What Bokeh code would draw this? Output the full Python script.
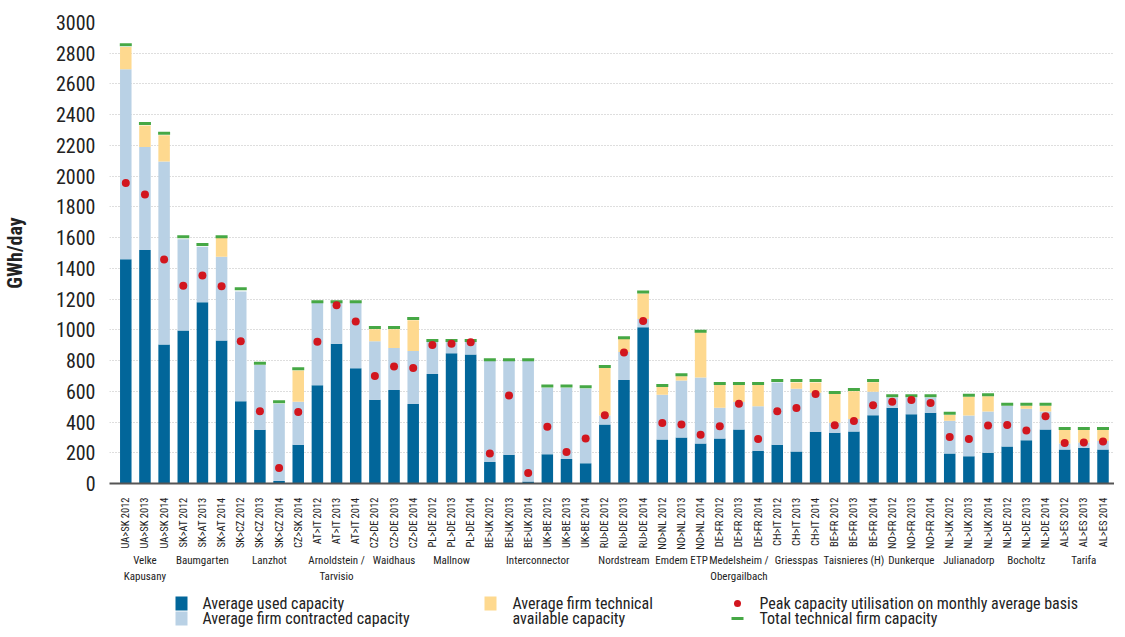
import numpy as np
from bokeh.plotting import figure
from bokeh.models import Range1d, FixedTicker, ColumnDataSource
from bokeh.layouts import column
from bokeh.embed import file_html
from bokeh.resources import INLINE
from bokeh.core.properties import value

labels = ["UA>SK 2012", "UA>SK 2013", "UA>SK 2014", "SK>AT 2012", "SK>AT 2013", "SK>AT 2014",
          "SK>CZ 2012", "SK>CZ 2013", "SK>CZ 2014", "CZ>SK 2014", "AT>IT 2012", "AT>IT 2013",
          "AT>IT 2014", "CZ>DE 2012", "CZ>DE 2013", "CZ>DE 2014", "PL>DE 2012", "PL>DE 2013",
          "PL>DE 2014", "BE>UK 2012", "BE>UK 2013", "BE>UK 2014", "UK>BE 2012", "UK>BE 2013",
          "UK>BE 2014", "RU>DE 2012", "RU>DE 2013", "RU>DE 2014", "NO>NL 2012", "NO>NL 2013",
          "NO>NL 2014", "DE>FR 2012", "DE>FR 2013", "DE>FR 2014", "CH>IT 2012", "CH>IT 2013",
          "CH>IT 2014", "BE>FR 2012", "BE>FR 2013", "BE>FR 2014", "NO>FR 2012", "NO>FR 2013",
          "NO>FR 2014", "NL>UK 2012", "NL>UK 2013", "NL>UK 2014", "NL>DE 2012", "NL>DE 2013",
          "NL>DE 2014", "AL>ES 2012", "AL>ES 2013", "AL>ES 2014"]

groups = ["Velke\nKapusany", "Baumgarten", "Lanzhot", "Arnoldstein /\nTarvisio", "Waidhaus",
          "Mallnow", "Interconnector", "Nordstream", "Emdem ETP", "Medelsheim /\nObergailbach",
          "Griesspas", "Taisnieres (H)", "Dunkerque", "Julianadorp", "Bocholtz", "Tarifa"]
group_sizes = [3, 3, 4, 3, 3, 3, 6, 3, 3, 3, 3, 3, 3, 3, 3, 3]

# Average used capacity
used = [1460, 1520, 905, 995, 1180, 930, 535, 350, 17, 252, 640, 910, 750,
        545, 608, 517, 713, 847, 840, 140, 187, 13, 190, 159, 131,
        384, 674, 1017, 287, 300, 261, 293, 351, 213, 252, 209, 336,
        330, 338, 444, 493, 450, 461, 196, 177, 200, 241, 282, 351, 222, 233, 222]
# Top of average firm contracted capacity
contracted = [2695, 2190, 2095, 1590, 1541, 1476, 1250, 771, 519, 532, 1175, 1175, 1175,
              925, 881, 862, 922, 922, 922, 797, 797, 797, 623, 623, 619,
              442, 855, 1070, 578, 670, 690, 493, 530, 502, 657, 616, 590,
              396, 420, 597, 560, 560, 560, 409, 442, 468, 506, 487, 468, 261, 267, 276]
# Top of average firm technical available capacity
technical = [2840, 2330, 2267, 1590, 1541, 1599, 1250, 771, 519, 735, 1175, 1175, 1175,
             1004, 1004, 1062, 922, 922, 922, 797, 797, 797, 623, 623, 619,
             752, 940, 1237, 629, 698, 985, 642, 642, 642, 657, 657, 657,
             584, 601, 659, 560, 560, 560, 446, 565, 567, 506, 506, 506, 349, 349, 349]
# Total technical firm capacity
total = [2855, 2343, 2280, 1606, 1556, 1606, 1267, 782, 532, 746, 1183, 1183, 1183,
         1015, 1015, 1073, 931, 931, 931, 806, 806, 806, 634, 634, 629,
         761, 948, 1246, 638, 707, 991, 651, 651, 651, 670, 670, 670,
         593, 612, 670, 571, 571, 571, 457, 575, 578, 515, 515, 515, 358, 358, 358]
# Peak capacity utilisation on monthly average basis
peak = [1955, 1880, 1457, 1287, 1353, 1284, 925, 470, 101, 465, 922, 1160, 1054,
        700, 761, 752, 901, 909, 920, 196, 573, 69, 369, 205, 293,
        444, 853, 1058, 394, 384, 317, 373, 519, 289, 470, 491, 582,
        379, 407, 509, 532, 543, 524, 302, 289, 377, 381, 345, 438, 263, 267, 274]

y_ticks = list(range(0, 3001, 200))
legend_labels = ["Average used capacity", "Average firm contracted capacity",
                 "Average firm technical", "available capacity",
                 "Peak capacity utilisation on monthly average basis",
                 "Total technical firm capacity"]

FONT = "'Roboto Condensed', 'DejaVu Sans Condensed', 'Liberation Sans'"
DARK = "#02669a"
LIGHT = "#b9d1e5"
YELLOW = "#fed98f"
GREEN = "#46a845"
RED = "#d2161e"
TXT = "#222222"
LEFT = 104
FW = 1005

xs = list(range(len(labels)))
src = ColumnDataSource(dict(x=xs, used=used, contracted=contracted, technical=technical,
                            total=total, peak=peak))
xr = Range1d(-0.85, 51.6)

p = figure(frame_width=FW, frame_height=461, x_range=xr, y_range=Range1d(0, 3000),
           output_backend="svg", toolbar_location=None,
           min_border_left=LEFT, min_border_right=0, min_border_top=22, min_border_bottom=14)
p.outline_line_color = None

p.vbar(x="x", bottom=0, top="used", width=0.6, source=src, fill_color=DARK, line_color=None)
p.vbar(x="x", bottom="used", top="contracted", width=0.6, source=src, fill_color=LIGHT, line_color=None)
p.vbar(x="x", bottom="contracted", top="technical", width=0.6, source=src, fill_color=YELLOW, line_color=None)
p.scatter(x="x", y="total", marker="dash", size=12, line_width=3, line_color=GREEN, source=src)
p.scatter(x="x", y="peak", marker="circle", size=8, fill_color=RED, line_color=None, source=src)

p.xgrid.visible = False
p.ygrid.ticker = FixedTicker(ticks=y_ticks)
p.ygrid.grid_line_color = "#bdbdbd"
p.ygrid.grid_line_dash = "1 2"
p.ygrid.grid_line_width = 1.2

p.yaxis.ticker = FixedTicker(ticks=y_ticks)
p.yaxis.axis_line_color = None
p.yaxis.major_tick_line_color = None
p.yaxis.minor_tick_line_color = None
p.yaxis.major_label_text_font = FONT
p.yaxis.major_label_text_font_size = "20px"
p.yaxis.major_label_text_color = TXT
p.yaxis.major_label_standoff = 8
p.yaxis.axis_label = "GWh/day"
p.yaxis.axis_label_text_font = FONT
p.yaxis.axis_label_text_font_size = "20px"
p.yaxis.axis_label_text_font_style = "bold"
p.yaxis.axis_label_text_color = TXT
p.yaxis.axis_label_standoff = 26

p.xaxis.ticker = FixedTicker(ticks=[])
p.xaxis.axis_line_color = "#555555"
p.xaxis.axis_line_width = 2
p.xaxis.major_tick_line_color = None
p.xaxis.minor_tick_line_color = None
p.xaxis.major_label_standoff = 0

# Category and group labels, placed on the same x scale
starts = np.cumsum([0] + group_sizes[:-1])
centers = [float(s + (n - 1) / 2) for s, n in zip(starts, group_sizes)]

LABH = 88
lab = figure(frame_width=FW, frame_height=LABH, x_range=xr, y_range=Range1d(LABH, 0),
             output_backend="svg", toolbar_location=None, x_axis_type=None, y_axis_type=None,
             min_border_left=LEFT, min_border_right=0, min_border_top=0, min_border_bottom=0)
lab.outline_line_color = None
lab.xgrid.visible = False
lab.ygrid.visible = False
lab.text(x=xs, y=[0] * len(xs), text=labels, angle=np.pi / 2,
         text_font=value(FONT), text_font_size="10.5px", text_color=TXT,
         text_align="right", text_baseline="middle")
lab.text(x=centers, y=[56] * len(centers), text=groups,
         text_font=value(FONT), text_font_size="11px", text_color=TXT,
         text_align="center", text_baseline="top", text_line_height=1.3)

# Legend strip (x in pixels from the figure's left edge, y in pixels from its top)
LH = 42
lg = figure(frame_width=FW, frame_height=LH, x_range=Range1d(LEFT, LEFT + FW),
            y_range=Range1d(LH, 0), output_backend="svg", toolbar_location=None,
            x_axis_type=None, y_axis_type=None,
            min_border_left=LEFT, min_border_right=0, min_border_top=0, min_border_bottom=0)
lg.outline_line_color = None
lg.xgrid.visible = False
lg.ygrid.visible = False
r1, r2 = 18, 33
lg.rect(x=[176, 176, 485], y=[r1, r2, r1], width=12, height=14,
        fill_color=[DARK, LIGHT, YELLOW], line_color=None)
lg.scatter(x=[732], y=[r1], size=7, fill_color=RED, line_color=None)
lg.segment(x0=[726], x1=[738], y0=[r2], y1=[r2], line_color=GREEN, line_width=3)
lg.text(x=[197, 197, 507, 507, 754, 754], y=[r1, r2, r1, r2, r1, r2], text=legend_labels,
        text_font=value(FONT), text_font_size="16px", text_color=TXT,
        text_baseline="middle", text_align="left")

layout = column(p, lab, lg, spacing=0)
open("out.html", "w").write(file_html(layout, INLINE))
